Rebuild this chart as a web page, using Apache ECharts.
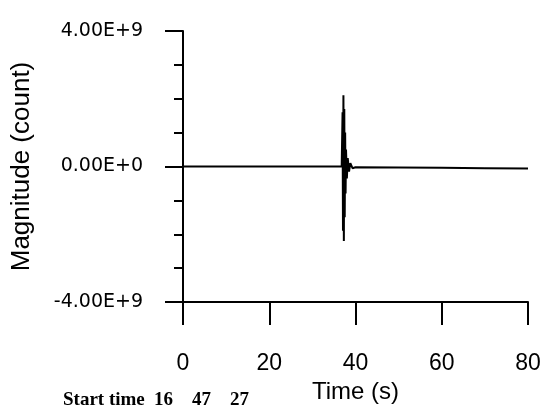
<!DOCTYPE html>
<html>
<head>
<meta charset="utf-8">
<script src="https://cdn.jsdelivr.net/npm/echarts@6/dist/echarts.min.js"></script>
<style>
  html, body { margin: 0; padding: 0; background: #fff; }
  #chart { width: 541px; height: 410px; }
</style>
</head>
<body>
<div id="chart"></div>
<script>
// trace samples (time in s, magnitude in counts)
const times = [0, 10, 20, 30, 36.8, 37.0, 37.1, 37.2, 37.3, 37.4, 37.5, 37.6, 37.7, 37.8, 38.0, 38.2, 38.5, 38.8, 39.3, 40, 50, 60, 70, 80];
const magnitudes = [0, 0, 0, 0, 0, 1.6e9, -1.9e9, 2.1e9, -2.2e9, 1.7e9, -1.5e9, 1.0e9, -0.8e9, 0.5e9, -0.35e9, 0.25e9, -0.15e9, 0.1e9, -0.05e9, -0.02e9, -0.03e9, -0.04e9, -0.05e9, -0.06e9];
const yTickLabels = { '4000000000': '4.00E+9', '0': '0.00E+0', '-4000000000': '-4.00E+9' };
const startTimeParts = ['Start time', '16', '47', '27'];
const startTimeX = [63, 154, 192, 230];

const chart = echarts.init(document.getElementById('chart'));

const option = {
  backgroundColor: '#fff',
  animation: false,
  grid: { left: 183, right: 13, top: 31, bottom: 108, outerBoundsMode: 'none' },
  xAxis: {
    type: 'value',
    min: 0,
    max: 80,
    interval: 20,
    name: 'Time (s)',
    nameLocation: 'middle',
    nameGap: 78,
    nameTextStyle: { fontFamily: 'Liberation Sans', fontSize: 24, color: '#000' },
    axisLine: { show: true, onZero: false, lineStyle: { color: '#000', width: 2 } },
    axisTick: { show: true, inside: false, length: 23, lineStyle: { color: '#000', width: 2 } },
    axisLabel: { margin: 50, fontFamily: 'Liberation Sans', fontSize: 23, color: '#000' },
    splitLine: { show: false }
  },
  yAxis: {
    type: 'value',
    min: -4e9,
    max: 4e9,
    interval: 4e9,
    name: 'Magnitude (count)',
    nameLocation: 'middle',
    nameGap: 148,
    nameTextStyle: { fontFamily: 'Liberation Sans', fontSize: 26, color: '#000' },
    axisLine: { show: true, onZero: false, lineStyle: { color: '#000', width: 2 } },
    axisTick: { show: true, inside: false, length: 18, lineStyle: { color: '#000', width: 2 } },
    minorTick: { show: true, splitNumber: 4, length: 9, lineStyle: { color: '#000', width: 2 } },
    axisLabel: {
      margin: 40,
      fontFamily: 'DejaVu Sans',
      fontSize: 19,
      color: '#000',
      formatter: v => yTickLabels[String(v)] || ''
    },
    splitLine: { show: false }
  },
  graphic: startTimeParts.map((t, i) => ({
    type: 'text',
    x: startTimeX[i],
    y: 400,
    style: {
      text: t,
      font: 'bold 19px "Liberation Serif"',
      fill: '#000',
      verticalAlign: 'middle'
    }
  })),
  series: [{
    type: 'line',
    data: times.map((t, i) => [t, magnitudes[i]]),
    showSymbol: false,
    lineStyle: { color: '#000', width: 2 },
    clip: false
  }]
};

chart.setOption(option);
</script>
</body>
</html>
